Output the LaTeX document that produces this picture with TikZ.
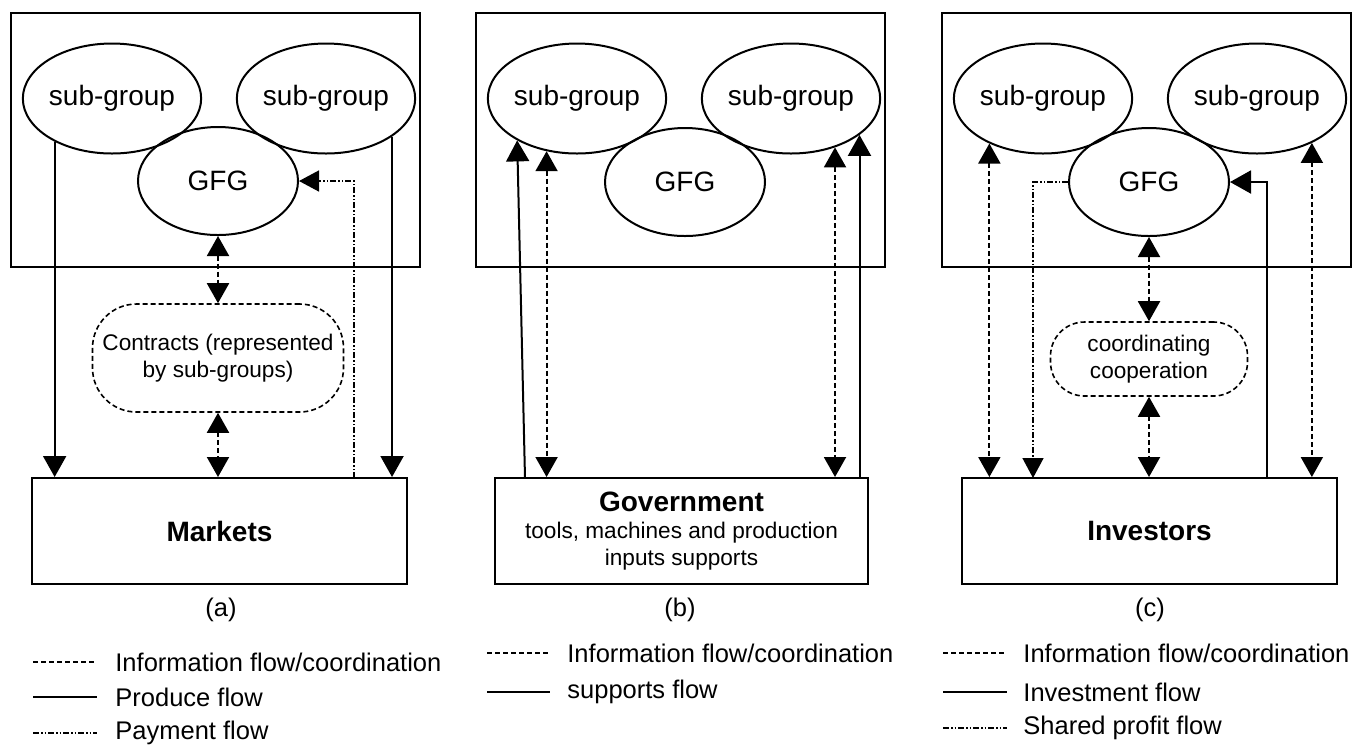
\documentclass[tikz,border=0pt]{standalone}
\usepackage{fontspec}
\setmainfont{Liberation Sans}
\usetikzlibrary{shapes.geometric,arrows.meta}
\begin{document}
\begin{tikzpicture}[x=0.5pt,y=-0.5pt,
  outerbox/.style={draw,line width=1pt,minimum width=204.5pt,minimum height=127pt,inner sep=0pt},
  grp/.style={draw,ellipse,line width=1pt,minimum width=80.5pt,minimum height=55pt,inner sep=0pt,font=\fontsize{14}{17}\selectfont},
  gfg/.style={grp,minimum width=80pt,minimum height=54pt},
  actor/.style={draw,line width=1pt,minimum width=187.5pt,minimum height=53pt,inner sep=0pt,font=\fontsize{14}{17}\selectfont\bfseries},
  pill/.style={draw,line width=0.8pt,dash pattern=on 2.5pt off 1.5pt,inner sep=0pt,align=center,font=\fontsize{11.3}{13.2}\selectfont},
  info/.style={line width=1pt,dash pattern=on 2.5pt off 1.5pt,{Triangle[width=11pt,length=10pt]}-{Triangle[width=11pt,length=10pt]}},
  solidflow/.style={line width=1pt,-{Triangle[width=11.5pt,length=10.5pt]}},
  pay/.style={line width=0.75pt,dash pattern=on 3pt off 1pt on 0.75pt off 1pt on 0.75pt off 1pt,-{Triangle[width=10.5pt,length=10pt]}},
  legtext/.style={anchor=west,inner sep=0pt,font=\fontsize{12.75}{15}\selectfont},
  caplabel/.style={inner sep=0pt,font=\fontsize{12.75}{15}\selectfont}
]
\useasboundingbox (0,0) rectangle (1353,746);

% ---------------- panel (a)
\node[outerbox] (boxA) at (215,140) {};
\node[grp] (sgA1) at (112,98.5) {sub-group};
\node[grp] (sgA2) at (326,98.5) {sub-group};
\node[gfg] (gfgA) at (218,181) {GFG};
\node[pill,minimum width=125.5pt,minimum height=54pt,rounded corners=22pt] (conA) at (218,358) {Contracts (represented\\by sub-groups)};
\node[actor] (mkA) at (219.5,531) {Markets};
\coordinate (payA) at (354,478);
\draw[solidflow] (sgA1.-143) -- (sgA1.-143 |- mkA.north);
\draw[solidflow] (sgA2.-30) -- (sgA2.-30 |- mkA.north);
\draw[pay] (payA) |- (gfgA.east);
\draw[info] (gfgA.south) -- (conA.north);
\draw[info] (conA.south) -- (conA.south |- mkA.north);
\node[caplabel] (labA) at (221,610) {(a)};
\draw[info,-] (33,662) -- (97,662);
\node[legtext] (lA1) at (115,662) {Information flow/coordination};
\draw[line width=1pt] (33,697) -- (97,697);
\node[legtext] (lA2) at (115,697) {Produce flow};
\draw[pay,-] (33,733) -- (97,733);
\node[legtext] (lA3) at (115,733) {Payment flow};

% ---------------- panel (b)
\node[outerbox] (boxB) at (680.5,140) {};
\node[grp] (sgB1) at (577,98.5) {sub-group};
\node[grp] (sgB2) at (791,98.5) {sub-group};
\node[gfg] (gfgB) at (685,182) {GFG};
\node[actor,minimum width=186.5pt,align=center,font=\fontsize{11.3}{13.5}\selectfont] (govB) at (681.5,531)
  {{\fontsize{14}{17}\selectfont\bfseries Government}\\tools, machines and production\\inputs supports};
\coordinate (supB) at (525,478);
\draw[solidflow] (supB) -- (sgB1.-145);
\draw[info] (sgB1.-120) -- (sgB1.-120 |- govB.north);
\draw[info] (sgB2.-48) -- (sgB2.-48 |- govB.north);
\draw[solidflow] (sgB2.-28 |- govB.north) -- (sgB2.-28);
\node[caplabel] (labB) at (680,610) {(b)};
\draw[info,-] (487,653) -- (550,653);
\node[legtext] (lB1) at (567,653) {Information flow/coordination};
\draw[line width=1pt] (487,692) -- (550,692);
\node[legtext] (lB2) at (567,692) {supports flow};

% ---------------- panel (c)
\node[outerbox] (boxC) at (1146,140) {};
\node[grp] (sgC1) at (1043,98.5) {sub-group};
\node[grp] (sgC2) at (1257,98.5) {sub-group};
\node[gfg] (gfgC) at (1149,182) {GFG};
\node[pill,minimum width=98.5pt,minimum height=37pt,rounded corners=17pt] (coC) at (1149,359) {coordinating\\cooperation};
\node[actor] (invC) at (1149.5,531) {Investors};
\coordinate (profC) at (1033,478);
\coordinate (invsC) at (1267,478);
\draw[info] (sgC1.-140) -- (sgC1.-140 |- invC.north);
\draw[info] (sgC2.-39) -- (sgC2.-39 |- invC.north);
\draw[pay] (gfgC.west) -| (profC);
\draw[solidflow] (invsC) |- (gfgC.east);
\draw[info] (gfgC.south) -- (coC.north);
\draw[info] (coC.south) -- (coC.south |- invC.north);
\node[caplabel] (labC) at (1150,610) {(c)};
\draw[info,-] (943,653) -- (1007,653);
\node[legtext] (lC1) at (1023,653) {Information flow/coordination};
\draw[line width=1pt] (943,692) -- (1007,692);
\node[legtext] (lC2) at (1023,692) {Investment flow};
\draw[pay,-] (943,728) -- (1007,728);
\node[legtext] (lC3) at (1023,728) {Shared profit flow};
\end{tikzpicture}
\end{document}
